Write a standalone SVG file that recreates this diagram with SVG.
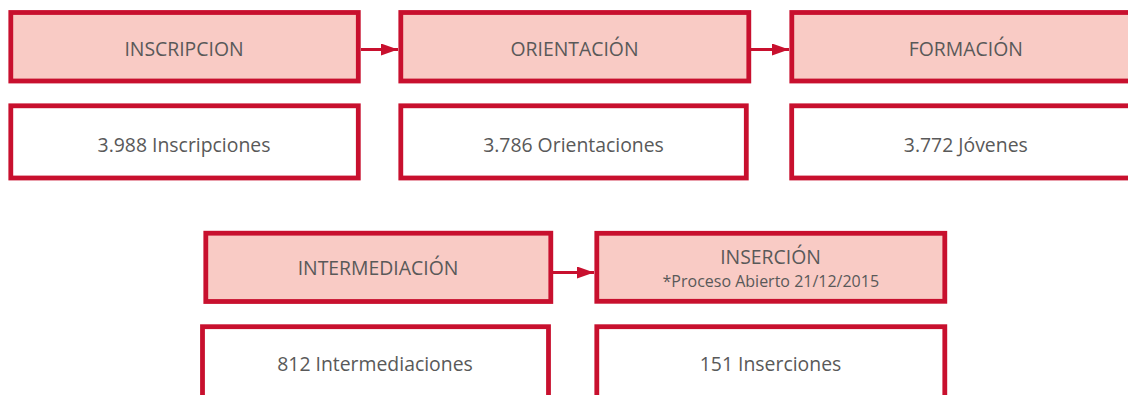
<svg xmlns="http://www.w3.org/2000/svg" width="1128" height="395" viewBox="0 0 1128 395">
  <style>
    .stage { fill: #F9CBC5; stroke: #C8102E; stroke-width: 4.8; }
    .data { fill: #FFFFFF; stroke: #C8102E; stroke-width: 4.8; }
    .t { font-family: "Open Sans", "Liberation Sans", sans-serif; font-size: 19.4px; fill: #595959; text-anchor: middle; }
    .s { font-family: "Open Sans", "Liberation Sans", sans-serif; font-size: 16px; fill: #595959; text-anchor: middle; }
    .conn { stroke: #C8102E; stroke-width: 3.2; fill: none; }
  </style>
  <defs>
    <marker id="ah" markerUnits="userSpaceOnUse" markerWidth="17" markerHeight="12" refX="17" refY="6" orient="auto">
      <path d="M0,0 L17,6 L0,12 Z" fill="#C8102E"/>
    </marker>
  </defs>
  <rect width="1128" height="395" fill="#FFFFFF"/>

  <g id="connectors">
    <line class="conn" x1="361" y1="49.5" x2="398" y2="49.5" marker-end="url(#ah)"/>
    <line class="conn" x1="751" y1="49.5" x2="789" y2="49.5" marker-end="url(#ah)"/>
    <line class="conn" x1="553" y1="272.5" x2="594" y2="272.5" marker-end="url(#ah)"/>
  </g>

  <g id="inscripcion">
    <rect class="stage" x="10.8" y="12.5" width="347.5" height="68.5"/>
    <text class="t" x="184" y="56">INSCRIPCION</text>
  </g>
  <g id="inscripcion-data">
    <rect class="data" x="10.8" y="105.8" width="347.5" height="72.2"/>
    <text class="t" x="184" y="152">3.988 Inscripciones</text>
  </g>

  <g id="orientacion">
    <rect class="stage" x="400.8" y="12.5" width="348" height="68.5"/>
    <text class="t" x="574.5" y="56">ORIENTACIÓN</text>
  </g>
  <g id="orientacion-data">
    <rect class="data" x="400.8" y="105.8" width="345.5" height="72.2"/>
    <text class="t" x="573.5" y="152">3.786 Orientaciones</text>
  </g>

  <g id="formacion">
    <rect class="stage" x="791.8" y="12.5" width="348" height="68.5"/>
    <text class="t" x="965.8" y="56">FORMACIÓN</text>
  </g>
  <g id="formacion-data">
    <rect class="data" x="791.7" y="105.8" width="348" height="72.2"/>
    <text class="t" x="965.8" y="152">3.772 Jóvenes</text>
  </g>

  <g id="intermediacion">
    <rect class="stage" x="205.8" y="233.2" width="345" height="68.3"/>
    <text class="t" x="378" y="275">INTERMEDIACIÓN</text>
  </g>
  <g id="intermediacion-data">
    <rect class="data" x="202.5" y="326.7" width="346" height="80"/>
    <text class="t" x="375" y="370.7">812 Intermediaciones</text>
  </g>

  <g id="insercion">
    <rect class="stage" x="596.8" y="233.3" width="348" height="68"/>
    <text class="t" x="770.5" y="264.3">INSERCIÓN</text>
    <text class="s" x="770.8" y="286.7">*Proceso Abierto 21/12/2015</text>
  </g>
  <g id="insercion-data">
    <rect class="data" x="596.8" y="326.7" width="348" height="80"/>
    <text class="t" x="770.5" y="370.7">151 Inserciones</text>
  </g>
</svg>
